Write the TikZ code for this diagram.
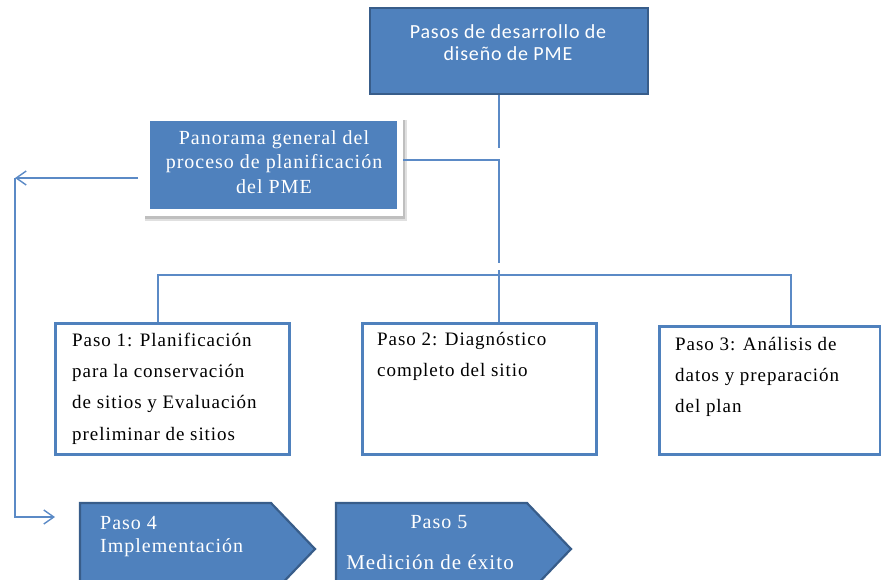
\documentclass[tikz,border=0pt]{standalone}
\usepackage{fontspec}
\setmainfont{Liberation Serif}[LetterSpace=5]
\newfontfamily\calfont{Carlito}[LetterSpace=4]
\usetikzlibrary{arrows.meta}
\definecolor{bfill}{HTML}{4F81BD}
\definecolor{bdark}{HTML}{385D8A}
\definecolor{bline}{HTML}{5B8AC6}
\begin{document}
\begin{tikzpicture}[x=1pt,y=-1pt,
  conn/.style={draw=bline,line width=1.6pt},
  arr/.style={conn,-{Straight Barb[length=10pt,width=14pt,line width=1.4pt]}},
  bluebox/.style={draw=bdark,fill=bfill,line width=2.2pt},
  stepbox/.style={draw=bfill,line width=3pt,fill=white},
  steptext/.style={anchor=north west,align=left,inner sep=0pt,font=\fontsize{19}{31.2}\selectfont,text=black},
  wtext/.style={inner sep=0pt,align=center,text=white,font=\fontsize{20}{24}\selectfont},
]
\useasboundingbox (0,0) rectangle (881,579);
\clip (0,0) rectangle (881,579);
% top box
\node[bluebox,minimum width=278,minimum height=86,anchor=north west,inner sep=0pt] (top) at (369,7) {};
\node[wtext,font=\calfont\fontsize{20}{22}\selectfont,anchor=north] (toptext) at (508,24) {Pasos de desarrollo de\\diseño de PME};
% panorama box
\fill[black!12] (145,120) rectangle (407,221);
\fill[black!25] (145,120) rectangle (405,219);
\node[fill=white,minimum width=259,minimum height=98,anchor=north west,inner sep=0pt] (pano) at (144,118) {};
\node[fill=bfill,minimum width=247,minimum height=88,anchor=north west,inner sep=0pt] (panoin) at (150,121) {};
\node[wtext,anchor=north,font=\fontsize{20}{24.5}\selectfont] (panotext) at (274,130) {Panorama general del\\proceso de planificación\\del PME};
% step boxes
\node[stepbox,minimum width=234,minimum height=131,anchor=north west,inner sep=0pt] (p1) at (54,322) {};
\node[steptext] (p1t) at (72,333) {Paso 1: Planificación\\para la conservación\\de sitios y Evaluación\\preliminar de sitios};
\node[stepbox,minimum width=234,minimum height=131,anchor=north west,inner sep=0pt] (p2) at (361,322) {};
\node[steptext] (p2t) at (377,332) {Paso 2: Diagnóstico\\completo del sitio};
\node[stepbox,minimum width=221,minimum height=128,anchor=north west,inner sep=0pt] (p3) at (658,325) {};
\node[steptext] (p3t) at (675,337) {Paso 3: Análisis de\\datos y preparación\\del plan};
% pentagons
\draw[bluebox] (80,503) -- (271,503) -- (315,549) -- (271,595) -- (80,595) -- cycle;
\coordinate (p4a) at (55,517);
\node[wtext,anchor=north west,align=left,font=\fontsize{20}{23}\selectfont] (p4t) at (100,516) {Paso 4\\Implementación};
\draw[bluebox] (336,503) -- (527,503) -- (571,549) -- (527,595) -- (336,595) -- cycle;
\node[wtext,anchor=north] (p5t) at (439,515) {Paso 5};
\node[wtext,anchor=north,font=\fontsize{21}{24}\selectfont] (p5t2) at (430,555) {Medición de éxito};
% connectors
\coordinate (j1) at (499,148);
\draw[conn] (top.south -| j1) -- (j1);
\coordinate (j2) at (499,263);
\draw[conn] (pano.east |- 0,160) -- (499,160) -- (j2);
\coordinate (hl) at (158,275);
\coordinate (hr) at (791,275);
\draw[conn] (p1.north -| hl) -- (hl) -- (hr) -- (p3.north -| hr);
\draw[conn] (499,270) -- (p2.north -| 499,0);
\coordinate (corner) at (15,178);
\draw[arr] (138,178) -- (corner);
\draw[arr] (corner) |- (p4a);
\end{tikzpicture}
\end{document}
